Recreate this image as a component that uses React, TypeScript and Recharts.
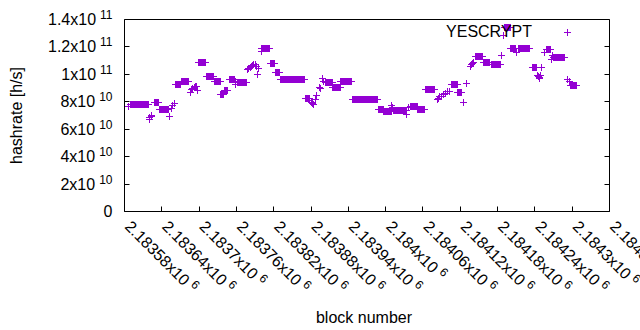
import React from 'react';
import { ScatterChart, Scatter, XAxis, YAxis, Legend } from 'recharts';

const COLOR = '#9400D3';
const FONT = '"Liberation Sans", Arial, Helvetica, sans-serif';

// x axis ticks (block numbers) and their labels (mantissa x10^6)
const xTicks = [2183580, 2183640, 2183700, 2183760, 2183820, 2183880, 2183940, 2184000, 2184060, 2184120, 2184180, 2184240, 2184300, 2184360];
const xTickMantissas = ['2.18358x10', '2.18364x10', '2.1837x10', '2.18376x10', '2.18382x10', '2.18388x10', '2.18394x10', '2.184x10', '2.18406x10', '2.18412x10', '2.18418x10', '2.18424x10', '2.1843x10', '2.18436x10'];
const xTickExponent = '6';

// y axis ticks (hashrate)
const yTicks = [0, 2e10, 4e10, 6e10, 8e10, 1e11, 1.2e11, 1.4e11];
const yTickMantissas = ['0', '2x10', '4x10', '6x10', '8x10', '1x10', '1.2x10', '1.4x10'];
const yTickExponents = ['', '10', '10', '10', '10', '11', '11', '11'];

// Runs of consecutive blocks sharing one hashrate reading (first block, last block, value)
const runFirstBlock = [
  2183586, 2183589, 2183620, 2183621, 2183623, 2183624, 2183628, 2183636, 2183653, 2183656,
  2183657, 2183660, 2183662, 2183671, 2183686, 2183688, 2183690, 2183692, 2183694, 2183696,
  2183698, 2183699, 2183712, 2183724, 2183735, 2183741, 2183749, 2183758, 2183759, 2183761,
  2183778, 2183780, 2183782, 2183784, 2183786, 2183788, 2183790, 2183792, 2183794, 2183795,
  2183800, 2183801, 2183814, 2183823, 2183831, 2183871, 2183878, 2183880, 2183882, 2183884,
  2183887, 2183889, 2183893, 2183895, 2183898, 2183900, 2183904, 2183915, 2183928, 2183947,
  2183988, 2183997, 2184010, 2184011, 2184012, 2184034, 2184037, 2184040, 2184052, 2184064,
  2184083, 2184085, 2184087, 2184090, 2184093, 2184096, 2184099, 2184102, 2184106, 2184116,
  2184125, 2184130, 2184136, 2184138, 2184140, 2184142, 2184144, 2184157, 2184170, 2184186,
  2184190, 2184191, 2184201, 2184211, 2184213, 2184236, 2184245, 2184246, 2184247, 2184248,
  2184249, 2184251, 2184256, 2184258, 2184266, 2184268, 2184270, 2184293, 2184295, 2184297,
];
const runLastBlock = [
  2183586, 2183619, 2183620, 2183621, 2183623, 2183624, 2183634, 2183651, 2183653, 2183656,
  2183657, 2183660, 2183670, 2183683, 2183686, 2183688, 2183690, 2183692, 2183694, 2183696,
  2183698, 2183711, 2183723, 2183734, 2183740, 2183746, 2183757, 2183758, 2183759, 2183777,
  2183778, 2183780, 2183782, 2183784, 2183786, 2183788, 2183790, 2183792, 2183794, 2183795,
  2183800, 2183813, 2183822, 2183830, 2183870, 2183877, 2183878, 2183880, 2183882, 2183884,
  2183887, 2183889, 2183893, 2183895, 2183898, 2183900, 2183914, 2183927, 2183945, 2183987,
  2183996, 2184009, 2184010, 2184011, 2184033, 2184034, 2184037, 2184051, 2184063, 2184079,
  2184083, 2184085, 2184087, 2184090, 2184093, 2184096, 2184099, 2184102, 2184115, 2184122,
  2184125, 2184130, 2184136, 2184138, 2184140, 2184142, 2184155, 2184167, 2184184, 2184186,
  2184190, 2184200, 2184209, 2184211, 2184232, 2184243, 2184245, 2184246, 2184247, 2184248,
  2184249, 2184251, 2184256, 2184265, 2184266, 2184268, 2184288, 2184293, 2184295, 2184307,
];
const runHashrate = [
  7.65e10, 7.78e10, 6.7e10, 6.85e10, 7.0e10, 6.95e10, 7.93e10, 7.41e10, 6.93e10, 7.5e10,
  7.7e10, 7.85e10, 9.24e10, 9.47e10, 8.7e10, 8.9e10, 8.95e10, 9.05e10, 9.15e10, 9.1e10,
  8.85e10, 10.84e10, 9.84e10, 9.46e10, 8.55e10, 8.8e10, 9.65e10, 9.45e10, 9.25e10, 9.38e10,
  10.35e10, 10.45e10, 10.5e10, 10.6e10, 10.65e10, 10.72e10, 10.7e10, 10.55e10, 9.98e10, 10.42e10,
  11.7e10, 11.86e10, 10.77e10, 10.1e10, 9.6e10, 8.22e10, 8.1e10, 7.95e10, 7.85e10, 7.78e10,
  8.2e10, 8.45e10, 9.07e10, 9.0e10, 9.67e10, 9.5e10, 9.42e10, 9.02e10, 9.46e10, 8.14e10,
  7.42e10, 7.3e10, 7.75e10, 7.6e10, 7.4e10, 7.07e10, 7.6e10, 7.69e10, 7.46e10, 8.88e10,
  8.15e10, 8.25e10, 8.35e10, 8.4e10, 8.5e10, 8.6e10, 8.72e10, 8.78e10, 9.24e10, 8.68e10,
  7.92e10, 9.31e10, 10.6e10, 10.7e10, 10.8e10, 10.85e10, 11.33e10, 10.85e10, 10.7e10, 11.38e10,
  12.83e10, 13.45e10, 11.85e10, 11.57e10, 11.86e10, 10.5e10, 9.95e10, 9.85e10, 9.72e10, 9.78e10,
  9.9e10, 10.5e10, 11.62e10, 11.8e10, 11.05e10, 11.38e10, 11.2e10, 9.6e10, 9.45e10, 9.17e10,
];

const seriesName = 'YESCRYPT';

// every block of a run carries the run's reading
const data: { block: number; hashrate: number }[] = [];
runFirstBlock.forEach((first, i) => {
  for (let b = first; b <= runLastBlock[i]; b++) {
    data.push({ block: b, hashrate: runHashrate[i] });
  }
});

const snap = (v: number) => Math.round(v - 0.5) + 0.5;

const PlusShape = (props: any) => {
  const { cx, cy } = props;
  if (cx == null || cy == null || isNaN(cx) || isNaN(cy)) return null;
  const x = snap(cx);
  const y = snap(cy);
  return (
    <path
      d={`M${x - 3.5},${y}H${x + 3.5}M${x},${y - 3.5}V${y + 3.5}`}
      stroke={COLOR}
      strokeWidth={1}
      fill="none"
    />
  );
};

const TICK_LEN = 5;

const XBottomTick = (props: any) => {
  const { x, y, payload } = props;
  const i = xTicks.indexOf(payload.value);
  const tx = snap(x);
  const ax = x - 0.5;
  const ay = y + 16;
  return (
    <g>
      <line x1={tx} y1={y} x2={tx} y2={y - TICK_LEN} stroke="#000" strokeWidth={1} />
      <text
        x={ax}
        y={ay}
        transform={`rotate(45 ${ax} ${ay})`}
        fontFamily={FONT}
        fontSize={16}
        fill="#000"
        textAnchor="start"
      >
        {xTickMantissas[i]}
        <tspan dx={4} dy={-6} fontSize={12}>{xTickExponent}</tspan>
      </text>
    </g>
  );
};

const XTopTick = (props: any) => {
  const { x, y } = props;
  const tx = snap(x);
  return <line x1={tx} y1={y} x2={tx} y2={y + TICK_LEN} stroke="#000" strokeWidth={1} />;
};

const YLeftTick = (props: any) => {
  const { x, y, payload } = props;
  const i = yTicks.indexOf(payload.value);
  const ty = snap(y);
  return (
    <g>
      <line x1={x} y1={ty} x2={x + TICK_LEN} y2={ty} stroke="#000" strokeWidth={1} />
      <text x={x - 12} y={y + 5.5} fontFamily={FONT} fontSize={16} fill="#000" textAnchor="end">
        {yTickMantissas[i]}
        {yTickExponents[i] ? (
          <tspan dx={4} dy={-6} fontSize={12}>{yTickExponents[i]}</tspan>
        ) : null}
      </text>
    </g>
  );
};

const YRightTick = (props: any) => {
  const { x, y } = props;
  const ty = snap(y);
  return <line x1={x} y1={ty} x2={x - TICK_LEN} y2={ty} stroke="#000" strokeWidth={1} />;
};

const XLabel = (props: any) => {
  const vb = props.viewBox || {};
  return (
    <text x={vb.x + vb.width / 2 - 3} y={vb.y + 111.5} fontFamily={FONT} fontSize={16} fill="#000" textAnchor="middle">
      block number
    </text>
  );
};

const YLabel = (props: any) => {
  const vb = props.viewBox || {};
  const lx = vb.x + vb.width - 103;
  const ly = vb.y + vb.height / 2;
  return (
    <text x={lx} y={ly} transform={`rotate(-90 ${lx} ${ly})`} fontFamily={FONT} fontSize={16} fill="#000" textAnchor="middle">
      hashrate [h/s]
    </text>
  );
};

const LegendContent = () => (
  <svg width={150} height={24} style={{ display: 'block', overflow: 'visible' }}>
    <text x={102} y={17.3} textAnchor="end" fontFamily={FONT} fontSize={16} fill="#000">
      {seriesName}
    </text>
    <path d="M134,12.5H141M137.5,9V16" stroke={COLOR} strokeWidth={1} fill="none" />
  </svg>
);

const axisLine = { stroke: '#000', strokeWidth: 1 };

export default function App() {
  return (
    <div style={{ position: 'absolute', left: 0, top: 0, width: 640, height: 330, background: '#fff' }}>
      <ScatterChart
        width={640}
        height={330}
        margin={{ top: 18.5, right: 29.5, bottom: 117.5, left: 123.5 }}
        style={{ fontFamily: FONT }}
      >
        <XAxis
          xAxisId={0}
          dataKey="block"
          type="number"
          domain={[2183580, 2184360]}
          allowDataOverflow
          ticks={xTicks}
          interval={0}
          height={1}
          tickSize={0}
          tickMargin={0}
          tickLine={false}
          axisLine={axisLine}
          tick={<XBottomTick />}
          label={<XLabel />}
        />
        <XAxis
          xAxisId="top"
          orientation="top"
          type="number"
          domain={[2183580, 2184360]}
          allowDataOverflow
          ticks={xTicks}
          interval={0}
          height={1}
          tickSize={0}
          tickMargin={0}
          tickLine={false}
          axisLine={axisLine}
          tick={<XTopTick />}
        />
        <YAxis
          yAxisId={0}
          dataKey="hashrate"
          type="number"
          domain={[0, 1.4e11]}
          allowDataOverflow
          ticks={yTicks}
          interval={0}
          width={1}
          tickSize={0}
          tickMargin={0}
          tickLine={false}
          axisLine={axisLine}
          tick={<YLeftTick />}
          label={<YLabel />}
        />
        <YAxis
          yAxisId="right"
          orientation="right"
          type="number"
          domain={[0, 1.4e11]}
          allowDataOverflow
          ticks={yTicks}
          interval={0}
          width={1}
          tickSize={0}
          tickMargin={0}
          tickLine={false}
          axisLine={axisLine}
          tick={<YRightTick />}
        />
        <Legend
          layout="vertical"
          verticalAlign="middle"
          align="center"
          wrapperStyle={{ left: 430, top: 20, width: 150, height: 24 }}
          content={<LegendContent />}
        />
        <Scatter
          name={seriesName}
          data={data}
          xAxisId={0}
          yAxisId={0}
          fill={COLOR}
          shape={<PlusShape />}
          isAnimationActive={false}
        />
      </ScatterChart>
    </div>
  );
}
